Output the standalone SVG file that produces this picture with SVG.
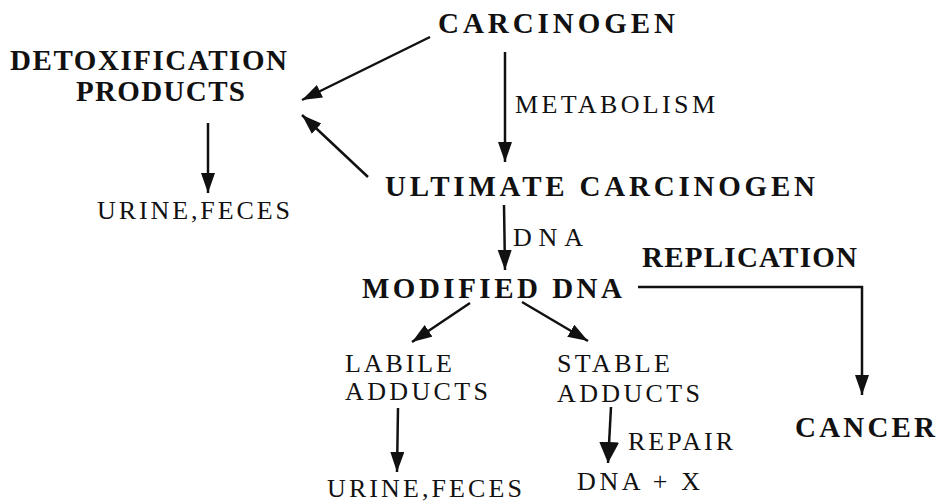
<svg xmlns="http://www.w3.org/2000/svg" width="937" height="504" viewBox="0 0 937 504">
<style>
text{font-family:"Liberation Serif","Times New Roman",serif;fill:#111}
.b{font-weight:bold;font-size:29px}
.r{font-size:26px}
.c line,.c polyline{stroke:#111;stroke-width:2.5;fill:none}
</style>
<defs>
<marker id="ah" markerUnits="userSpaceOnUse" markerWidth="22" markerHeight="16" refX="20" refY="7" orient="auto">
<path d="M0,0 L20,7 L0,14 Z" fill="#111"/>
</marker>
<marker id="ahb" markerUnits="userSpaceOnUse" markerWidth="24" markerHeight="24" refX="21" refY="10" orient="auto">
<path d="M0,0 L21,10 L0,20 Z" fill="#111"/>
</marker>
</defs>
<g class="c" id="connectors">
<line x1="430" y1="37" x2="302" y2="100" marker-end="url(#ah)"/>
<line x1="368" y1="177" x2="302" y2="115" marker-end="url(#ah)"/>
<line x1="208" y1="123" x2="208" y2="193" marker-end="url(#ah)"/>
<line x1="505" y1="52" x2="505" y2="162" marker-end="url(#ah)"/>
<line x1="504" y1="205" x2="505" y2="270" marker-end="url(#ah)"/>
<line x1="470" y1="303" x2="412" y2="342" marker-end="url(#ah)"/>
<line x1="522" y1="302" x2="588" y2="341" marker-end="url(#ah)"/>
<line x1="398" y1="408" x2="397" y2="472" marker-end="url(#ah)"/>
<line x1="611" y1="407" x2="608" y2="463" marker-end="url(#ahb)"/>
<polyline points="638,287 862,287 862,395" marker-end="url(#ah)"/>
</g>
<g id="carcinogen"><text class="b" x="438" y="33" textLength="237" lengthAdjust="spacing">CARCINOGEN</text></g>
<g id="detox"><text class="b" x="10" y="70" textLength="277" lengthAdjust="spacing">DETOXIFICATION</text><text class="b" x="76" y="101" textLength="169" lengthAdjust="spacing">PRODUCTS</text></g>
<g id="urine1"><text class="r" x="97" y="219" textLength="193" lengthAdjust="spacing">URINE,FECES</text></g>
<g id="metabolism-label"><text class="r" x="515" y="113" textLength="200" lengthAdjust="spacing">METABOLISM</text></g>
<g id="ultimate"><text class="b" x="385" y="196" textLength="430" lengthAdjust="spacing">ULTIMATE CARCINOGEN</text></g>
<g id="dna-label"><text class="r" x="513" y="246" textLength="70" lengthAdjust="spacing">DNA</text></g>
<g id="modified"><text class="b" x="362" y="298" textLength="260" lengthAdjust="spacing">MODIFIED DNA</text></g>
<g id="replication-label"><text class="b" x="642" y="267" textLength="215" lengthAdjust="spacing">REPLICATION</text></g>
<g id="labile"><text class="r" x="345" y="372" textLength="107" lengthAdjust="spacing">LABILE</text><text class="r" x="345" y="400" textLength="143" lengthAdjust="spacing">ADDUCTS</text></g>
<g id="stable"><text class="r" x="557" y="372" textLength="113" lengthAdjust="spacing">STABLE</text><text class="r" x="557" y="402" textLength="143" lengthAdjust="spacing">ADDUCTS</text></g>
<g id="urine2"><text class="r" x="327" y="497" textLength="195" lengthAdjust="spacing">URINE,FECES</text></g>
<g id="repair-label"><text class="r" x="628" y="450" textLength="105" lengthAdjust="spacing">REPAIR</text></g>
<g id="dnax"><text class="r" x="577" y="490" textLength="123" lengthAdjust="spacing">DNA + X</text></g>
<g id="cancer"><text class="b" x="795" y="437" textLength="140" lengthAdjust="spacing">CANCER</text></g>
</svg>
